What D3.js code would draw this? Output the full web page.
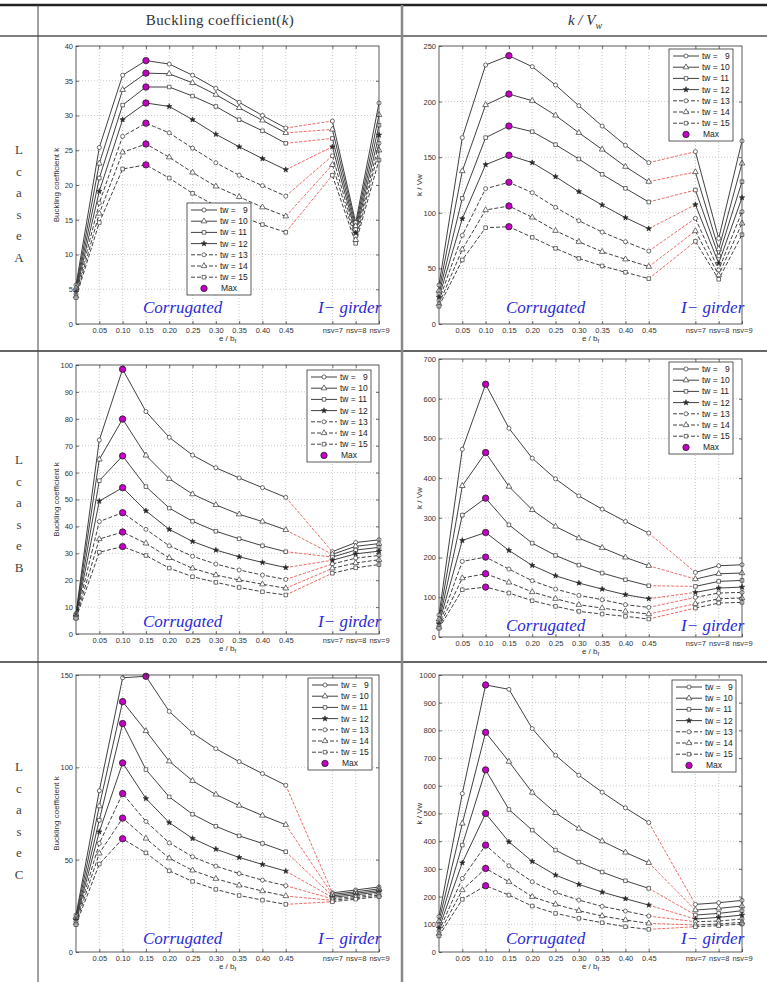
<!DOCTYPE html>
<html lang="en">
<head>
<meta charset="UTF-8">
<title>Buckling coefficient k and k/Vw</title>
<script src="https://d3js.org/d3.v7.min.js"></script>
<style>
  body { margin: 0; background: #fff; }
  svg { display: block; }
  .grid { stroke: #bdbdbd; stroke-width: 0.8; stroke-dasharray: 1,2; }
  .lbl { font-family: "Liberation Sans", Arial, sans-serif; font-size: 8px; fill: #333; }
  .leg { font-family: "Liberation Sans", Arial, sans-serif; font-size: 8.5px; fill: #222; white-space: pre; }
  .zone { font-family: "Liberation Serif", "Times New Roman", serif; font-style: italic; font-size: 17px; fill: #2a2ad8; }
  .head { font-family: "Liberation Serif", serif; font-size: 15px; fill: #333; }
  .case { font-family: "Liberation Serif", serif; font-size: 13px; fill: #444; }
</style>
</head>
<body>
<svg id="fig" width="767" height="982"></svg>
<script>
// x categories: e / b_f steps, then the three I-girder cases
const xLabels = ['', '0.05', '0.10', '0.15', '0.20', '0.25', '0.30', '0.35', '0.40', '0.45', 'nsv=7', 'nsv=8', 'nsv=9'];
const twValues = [9, 10, 11, 12, 13, 14, 15];

// each row: tw = 9 .. 15, values at xLabels order
const caseA_k = [
  [5.6, 25.4, 35.8, 37.9, 37.4, 35.8, 33.9, 31.9, 30.0, 28.2, 29.2, 14.6, 31.8],
  [5.2, 23.1, 33.7, 36.1, 36.0, 34.7, 33.0, 31.1, 29.3, 27.5, 28.0, 14.1, 30.1],
  [4.9, 21.0, 31.5, 34.1, 34.1, 32.8, 31.3, 29.4, 27.8, 26.0, 26.7, 13.6, 28.6],
  [4.6, 19.1, 29.4, 31.8, 31.3, 29.4, 27.3, 25.5, 23.8, 22.2, 25.5, 13.1, 27.2],
  [4.3, 17.4, 27.0, 28.9, 27.5, 25.3, 23.2, 21.4, 19.9, 18.4, 24.2, 12.6, 26.0],
  [4.0, 15.9, 24.7, 25.9, 24.0, 21.8, 19.8, 18.3, 16.8, 15.5, 22.9, 12.1, 25.0],
  [3.8, 14.6, 22.3, 22.9, 21.0, 18.8, 17.0, 15.6, 14.3, 13.2, 21.4, 11.6, 23.6]
];
const caseA_kv = [
  [35, 167.6, 232.9, 241.3, 231.4, 214.9, 196.3, 178.0, 160.7, 145.1, 155.0, 77.0, 164.6],
  [30, 137.6, 197.0, 206.8, 200.8, 187.6, 172.0, 157.0, 141.5, 128.0, 136.7, 67.4, 144.5],
  [27, 113.0, 167.6, 178.0, 173.0, 161.3, 148.4, 134.6, 122.0, 109.7, 120.5, 61.2, 128.0],
  [24, 94.7, 143.3, 151.7, 145.1, 132.5, 119.0, 107.0, 95.6, 85.7, 107.3, 54.6, 113.6],
  [21, 79.7, 121.7, 127.4, 118.1, 104.9, 92.9, 82.7, 74.0, 65.6, 95.0, 48.6, 101.0],
  [18, 67.1, 102.5, 106.1, 95.9, 83.9, 74.0, 65.0, 58.2, 51.6, 83.6, 44.0, 90.5],
  [16, 57.6, 86.6, 87.5, 77.9, 68.0, 59.0, 52.2, 46.5, 40.8, 74.3, 40.2, 80.3]
];
const caseB_k = [
  [7.6, 72.1, 98.4, 82.7, 73.1, 66.5, 61.8, 58.0, 54.4, 50.8, 30.6, 34.0, 35.0],
  [7.2, 64.9, 79.9, 66.4, 57.7, 52.0, 48.0, 44.5, 41.8, 38.7, 29.6, 32.6, 33.6],
  [6.9, 57.0, 66.2, 54.8, 46.8, 41.9, 38.2, 35.4, 32.8, 30.6, 28.6, 31.2, 32.2],
  [6.6, 49.4, 54.4, 45.8, 38.9, 34.4, 31.2, 28.7, 26.6, 24.7, 27.4, 29.8, 30.8],
  [6.3, 41.8, 45.1, 38.9, 32.8, 28.9, 26.0, 23.8, 21.9, 20.3, 26.0, 28.2, 29.2],
  [6.1, 35.3, 37.9, 33.7, 28.3, 24.4, 21.9, 20.1, 18.5, 17.0, 24.4, 26.4, 27.6],
  [5.8, 30.4, 32.5, 29.2, 24.5, 21.3, 19.2, 17.3, 15.7, 14.5, 22.6, 24.6, 25.8]
];
const caseB_kv = [
  [55, 472.8, 636.3, 525.6, 450.2, 398.2, 355.4, 321.9, 290.9, 261.6, 162.6, 179.4, 181.9],
  [45, 380.6, 464.4, 378.9, 320.2, 278.3, 249.0, 224.7, 200.4, 179.4, 145.9, 159.3, 161.0],
  [38, 306.8, 349.6, 282.5, 236.4, 205.4, 181.1, 161.0, 144.2, 129.1, 127.4, 140.0, 142.5],
  [33, 243.1, 263.2, 218.0, 180.2, 154.2, 135.8, 120.7, 106.5, 96.4, 112.3, 123.2, 125.7],
  [28, 190.3, 201.2, 171.0, 141.7, 120.7, 104.8, 93.9, 81.3, 74.6, 99.8, 110.7, 112.3],
  [25, 148.4, 159.3, 137.5, 113.2, 96.4, 81.3, 72.9, 64.5, 57.8, 83.8, 96.4, 98.1],
  [22, 119.0, 125.7, 110.7, 91.4, 77.1, 64.5, 57.8, 52.0, 45.3, 72.9, 85.5, 87.2]
];
const caseC_k = [
  [20.0, 87.3, 148.5, 149.3, 130.3, 118.6, 110.1, 103.1, 96.6, 90.3, 32.0, 33.6, 35.2],
  [19.0, 79.0, 135.6, 119.7, 103.3, 92.7, 85.3, 79.3, 73.9, 68.9, 31.2, 32.6, 34.2],
  [18.0, 71.4, 123.7, 98.8, 84.0, 74.6, 68.1, 62.9, 58.8, 54.3, 30.4, 31.8, 33.3],
  [17.2, 65.1, 102.4, 83.1, 70.1, 61.5, 55.7, 51.2, 47.4, 43.8, 29.6, 31.0, 32.5],
  [16.4, 58.8, 85.8, 70.7, 59.1, 51.6, 46.5, 42.5, 38.9, 35.9, 28.8, 30.2, 31.7],
  [15.6, 53.4, 72.5, 61.5, 50.8, 44.2, 39.7, 36.1, 33.0, 30.3, 28.0, 29.4, 30.8],
  [14.8, 47.6, 61.3, 53.7, 44.0, 38.2, 33.9, 30.6, 28.1, 25.8, 27.2, 28.6, 30.0]
];
const caseC_kv = [
  [128, 572.0, 964.0, 948.3, 806.5, 710.3, 638.2, 577.0, 520.4, 467.5, 171.9, 177.9, 186.3],
  [112, 464.0, 793.0, 687.5, 575.7, 502.4, 445.9, 400.2, 359.4, 322.1, 151.4, 157.5, 165.9],
  [98, 386.0, 657.5, 514.4, 440.0, 367.8, 324.5, 288.5, 257.2, 229.6, 133.4, 139.4, 149.0],
  [86, 322.0, 500.0, 397.8, 327.0, 277.6, 244.0, 216.3, 192.3, 169.5, 119.0, 125.0, 133.4],
  [76, 265.6, 385.8, 311.3, 253.6, 215.1, 187.5, 164.7, 147.8, 129.8, 109.4, 111.8, 119.0],
  [66, 223.6, 301.7, 253.6, 199.5, 171.9, 149.0, 129.8, 115.4, 103.4, 97.4, 101.0, 107.0],
  [58, 190.0, 239.2, 205.5, 165.9, 139.4, 121.4, 105.8, 91.3, 81.7, 91.3, 95.0, 101.0]
];

const yTicksA_k = d3.range(0, 41, 5);
const yTicksA_kv = d3.range(0, 251, 50);
const yTicksB_k = d3.range(0, 101, 10);
const yTicksB_kv = d3.range(0, 701, 100);
const yTicksC_k = [0, 50, 100, 150];
const yTicksC_kv = d3.range(0, 1001, 100);

const svg = d3.select('#fig');
const symbols = [d3.symbolCircle, d3.symbolTriangle, d3.symbolSquare, d3.symbolStar,
                 d3.symbolCircle, d3.symbolTriangle, d3.symbolSquare];
const symSize = [13, 14, 13, 9, 13, 14, 13];

// a gap of one step between 0.45 and the I-girder cases
const xIndex = i => (i <= 9 ? i : i + 1);
const xTickPos = xLabels.map((_, i) => xIndex(i));

function styleLine(sel, s) {
  return sel.attr('fill', 'none').attr('stroke', '#2b2b2b').attr('stroke-width', 0.9)
    .attr('stroke-dasharray', s >= 4 ? '4,2' : null);
}

function drawMarker(g, s, cx, cy) {
  g.append('path')
    .attr('d', d3.symbol().type(symbols[s]).size(symSize[s])())
    .attr('transform', `translate(${cx},${cy})`)
    .attr('fill', s === 3 ? '#222' : '#fff')
    .attr('stroke', '#333').attr('stroke-width', 0.7);
}

function drawLegend(g, lx, ly) {
  const w = 64, h = 92, step = 11.2;
  g.append('rect').attr('x', lx).attr('y', ly).attr('width', w).attr('height', h)
    .attr('fill', '#fff').attr('stroke', '#333').attr('stroke-width', 0.8);
  twValues.forEach((tw, s) => {
    const cy = ly + 7 + s * step;
    styleLine(g.append('line'), s).attr('x1', lx + 4).attr('x2', lx + 30).attr('y1', cy).attr('y2', cy);
    drawMarker(g, s, lx + 17, cy);
    g.append('text').attr('class', 'leg').attr('x', lx + 33).attr('y', cy + 3)
      .text(`tw = ${tw < 10 ? '  ' : ''}${tw}`);
  });
  const cy = ly + 7 + 7 * step;
  g.append('circle').attr('cx', lx + 17).attr('cy', cy).attr('r', 3.2)
    .attr('fill', '#c400c4').attr('stroke', '#222').attr('stroke-width', 0.8);
  g.append('text').attr('class', 'leg').attr('x', lx + 34).attr('y', cy + 3).text('Max');
}

function drawPanel(p) {
  const [x0, y0, x1, y1] = p.box;
  const x = d3.scaleLinear().domain([0, 13]).range([x0, x1]);
  const y = d3.scaleLinear().domain([0, p.yTicks[p.yTicks.length - 1]]).range([y1, y0]);
  const g = svg.append('g');

  // dotted grid
  g.append('g').selectAll('line').data(xTickPos.slice(1, -1)).join('line').attr('class', 'grid')
    .attr('x1', d => x(d)).attr('x2', d => x(d)).attr('y1', y0).attr('y2', y1);
  g.append('g').selectAll('line').data(p.yTicks.slice(1, -1)).join('line').attr('class', 'grid')
    .attr('x1', x0).attr('x2', x1).attr('y1', d => y(d)).attr('y2', d => y(d));

  const line = d3.line().x(d => x(xIndex(d.i))).y(d => y(d.v));
  p.data.forEach((vals, s) => {
    const pts = vals.map((v, i) => ({ i, v }));
    styleLine(g.append('path'), s).attr('d', line(pts.slice(0, 10)));
    g.append('path').attr('d', line(pts.slice(9, 11))).attr('fill', 'none')
      .attr('stroke', '#e5463f').attr('stroke-width', 0.8).attr('stroke-dasharray', '3,1.5');
    styleLine(g.append('path'), s).attr('d', line(pts.slice(10)));
  });
  p.data.forEach((vals, s) => {
    vals.forEach((v, i) => drawMarker(g, s, x(xIndex(i)), y(v)));
  });
  // max of each series over the corrugated range
  p.data.forEach(vals => {
    const i = d3.maxIndex(vals.slice(0, 10));
    g.append('circle').attr('cx', x(xIndex(i))).attr('cy', y(vals[i])).attr('r', 3.2)
      .attr('fill', '#c400c4').attr('stroke', '#222').attr('stroke-width', 0.8);
  });

  drawLegend(g, p.legend[0], p.legend[1]);

  g.append('text').attr('class', 'zone').attr('x', x0 + 67).attr('y', y1 - p.zoneDy).text('Corrugated');
  g.append('text').attr('class', 'zone').attr('x', x1 - 61).attr('y', y1 - p.zoneDy).text('I\u2212 girder');

  // axes, MATLAB box with inward ticks
  const font = g => g.attr('font-family', '"Liberation Sans", Arial, sans-serif').attr('font-size', 7.5);
  const ax = g.append('g').attr('transform', `translate(0,${y1})`)
    .call(d3.axisBottom(x).tickValues(xTickPos.slice(1)).tickFormat(d => xLabels[xTickPos.indexOf(d)])
      .tickSizeInner(-3).tickSizeOuter(0).tickPadding(4)).call(font);
  const ay = g.append('g').attr('transform', `translate(${x0},0)`)
    .call(d3.axisLeft(y).tickValues(p.yTicks).tickFormat(d3.format('d'))
      .tickSizeInner(-3).tickSizeOuter(0).tickPadding(3)).call(font);
  const at = g.append('g').attr('transform', `translate(0,${y0})`)
    .call(d3.axisTop(x).tickValues(xTickPos.slice(1, -1)).tickFormat('').tickSizeInner(-3).tickSizeOuter(0));
  const ar = g.append('g').attr('transform', `translate(${x1},0)`)
    .call(d3.axisRight(y).tickValues(p.yTicks.slice(1, -1)).tickFormat('').tickSizeInner(-3).tickSizeOuter(0));
  [ax, ay, at, ar].forEach(a => {
    a.select('.domain').remove();
    a.selectAll('line').attr('stroke', '#333').attr('stroke-width', 0.7);
    a.selectAll('text').attr('fill', '#333');
  });
  g.append('rect').attr('x', x0).attr('y', y0).attr('width', x1 - x0).attr('height', y1 - y0)
    .attr('fill', 'none').attr('stroke', '#333').attr('stroke-width', 0.8);

  g.append('text').attr('class', 'lbl').attr('text-anchor', 'middle')
    .attr('transform', `translate(${x0 - 17},${(y0 + y1) / 2}) rotate(-90)`).text(p.yLabel);
  const xl = g.append('text').attr('class', 'lbl').attr('text-anchor', 'middle')
    .attr('x', (x0 + x1) / 2).attr('y', y1 + 17);
  xl.append('tspan').text('e / b');
  xl.append('tspan').attr('font-size', 6).attr('dy', 2).text('f');
}

const panels = [
  { data: caseA_k, yTicks: yTicksA_k, yLabel: 'Buckling coefficient k', box: [76, 46, 379, 324], legend: [187, 203], zoneDy: 11 },
  { data: caseA_kv, yTicks: yTicksA_kv, yLabel: 'k / Vw', box: [439, 46, 742, 324], legend: [669, 49], zoneDy: 11 },
  { data: caseB_k, yTicks: yTicksB_k, yLabel: 'Buckling coefficient k', box: [76, 365, 379, 634], legend: [307, 370], zoneDy: 7 },
  { data: caseB_kv, yTicks: yTicksB_kv, yLabel: 'k / Vw', box: [439, 359, 742, 637], legend: [669, 362], zoneDy: 6 },
  { data: caseC_k, yTicks: yTicksC_k, yLabel: 'Buckling coefficient k', box: [76, 675, 379, 952], legend: [308, 678], zoneDy: 8 },
  { data: caseC_kv, yTicks: yTicksC_kv, yLabel: 'k / Vw', box: [439, 675, 742, 952], legend: [672, 680], zoneDy: 8 }
];

// table frame
const frame = svg.append('g');
frame.append('line').attr('x1', 0).attr('x2', 767).attr('y1', 5).attr('y2', 5).attr('stroke', '#222').attr('stroke-width', 2.5);
frame.append('line').attr('x1', 0).attr('x2', 767).attr('y1', 36).attr('y2', 36).attr('stroke', '#555').attr('stroke-width', 1.5);
[351, 662].forEach(yy => frame.append('line').attr('x1', 0).attr('x2', 767).attr('y1', yy).attr('y2', yy)
  .attr('stroke', '#666').attr('stroke-width', 2));
frame.append('line').attr('x1', 38).attr('x2', 38).attr('y1', 5).attr('y2', 982).attr('stroke', '#444').attr('stroke-width', 1);
frame.append('line').attr('x1', 402).attr('x2', 402).attr('y1', 5).attr('y2', 982).attr('stroke', '#888').attr('stroke-width', 2.5);

const h1 = frame.append('text').attr('class', 'head').attr('x', 220).attr('y', 25)
  .attr('text-anchor', 'middle').attr('letter-spacing', 0.4);
h1.append('tspan').text('Buckling  coefficient(');
h1.append('tspan').attr('font-style', 'italic').text('k');
h1.append('tspan').text(')');
const h2 = frame.append('text').attr('class', 'head').attr('x', 585).attr('y', 25)
  .attr('text-anchor', 'middle').attr('font-style', 'italic');
h2.append('tspan').text('k / V');
h2.append('tspan').attr('font-size', 10).attr('dy', 4).text('w');

[['A', 150], ['B', 460], ['C', 767]].forEach(([c, top]) => {
  ['L', 'c', 'a', 's', 'e', c].forEach((ch, k) => {
    frame.append('text').attr('class', 'case').attr('x', 19).attr('y', top + 4 + k * 21.6)
      .attr('text-anchor', 'middle').text(ch);
  });
});

panels.forEach(drawPanel);
</script>
</body>
</html>
